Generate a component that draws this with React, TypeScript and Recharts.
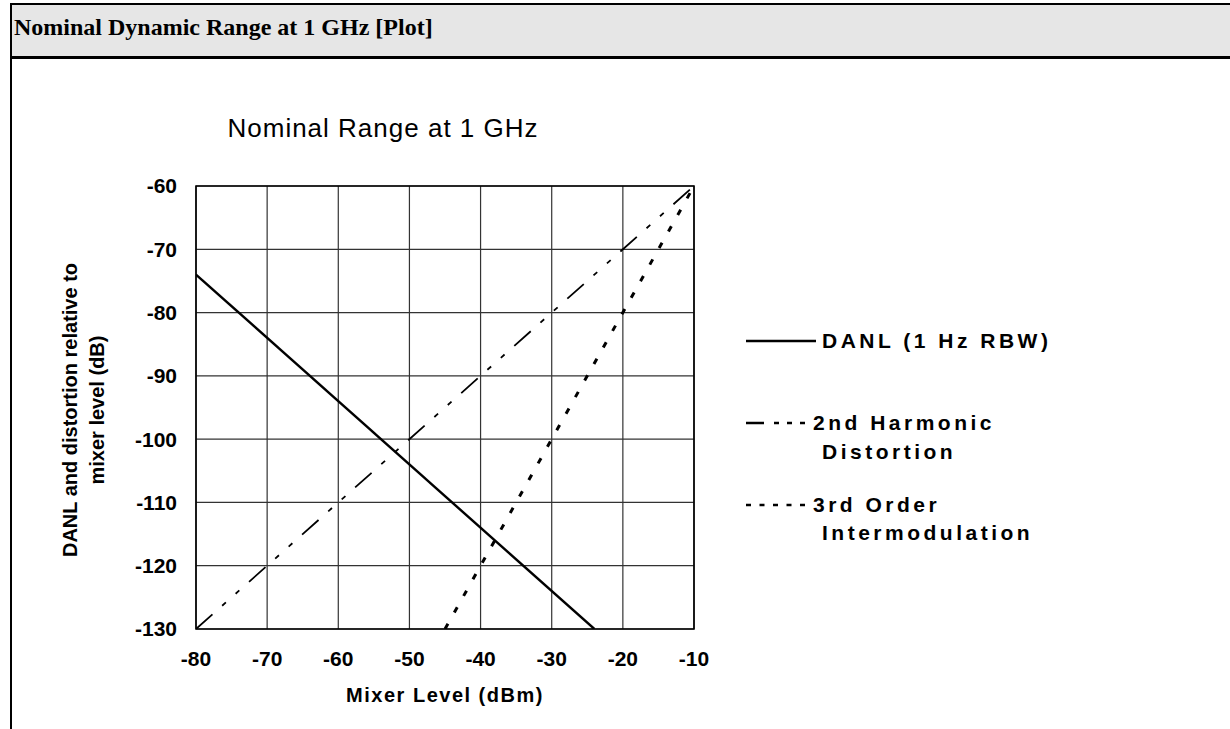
import React from "react";
import {
  LineChart,
  Line,
  XAxis,
  YAxis,
  CartesianGrid,
  ReferenceArea,
} from "recharts";

// Mixer level (dBm) on x, DANL / distortion relative to mixer level (dB) on y
const mixerTicks = [-80, -70, -60, -50, -40, -30, -20, -10];
const levelTicks = [-130, -120, -110, -100, -90, -80, -70, -60];

const danlMixer = [-80, -24];
const danlLevel = [-74, -130];

const harmonicMixer = [-80, -10];
const harmonicLevel = [-130, -60];

const imMixer = [-45, -10];
const imLevel = [-130, -60];

const toPoints = (xs: number[], ys: number[]) =>
  xs.map((x, i) => ({ x, y: ys[i] }));

const danlData = toPoints(danlMixer, danlLevel);
const harmonicData = toPoints(harmonicMixer, harmonicLevel);
const imData = toPoints(imMixer, imLevel);

const sans = "'Liberation Sans', Arial, sans-serif";
const tickStyle = { fill: "#000", fontSize: 21, fontWeight: 700, fontFamily: sans };

const YLabel = () => (
  <g fontFamily={sans} fontWeight={700} fontSize={20} fill="#000" textAnchor="middle">
    <text x={77} y={410} transform="rotate(-90 77 410)">
      DANL and distortion relative to
    </text>
    <text x={104} y={410} transform="rotate(-90 104 410)">
      mixer level (dB)
    </text>
  </g>
);

const XLabel = () => (
  <text
    x={445}
    y={702}
    textAnchor="middle"
    fontFamily={sans}
    fontWeight={700}
    fontSize={20}
    letterSpacing={1.5}
    fill="#000"
  >
    Mixer Level (dBm)
  </text>
);

const legendText: React.CSSProperties = {
  position: "absolute",
  fontFamily: sans,
  fontWeight: 700,
  fontSize: 21,
  letterSpacing: 3.5,
  lineHeight: "21px",
  whiteSpace: "nowrap",
};

export default function App() {
  return (
    <div
      style={{
        position: "absolute",
        left: 0,
        top: 0,
        width: 1230,
        height: 729,
        background: "#fff",
        overflow: "hidden",
      }}
    >
      {/* framed panel with grey heading */}
      <div
        style={{
          position: "absolute",
          left: 10,
          top: 3,
          width: 1240,
          height: 760,
          borderLeft: "2px solid #000",
          borderTop: "2px solid #000",
        }}
      />
      <div
        style={{
          position: "absolute",
          left: 12,
          top: 5,
          width: 1230,
          height: 51,
          background: "#e6e6e6",
          borderBottom: "3px solid #000",
        }}
      />
      <div
        style={{
          position: "absolute",
          left: 14,
          top: 14,
          fontFamily: "'Liberation Serif', 'Times New Roman', serif",
          fontWeight: 700,
          fontSize: 24,
          lineHeight: "26px",
          color: "#000",
        }}
      >
        Nominal Dynamic Range at 1 GHz [Plot]
      </div>

      <div
        style={{
          position: "absolute",
          left: 0,
          top: 113,
          width: 766,
          textAlign: "center",
          fontFamily: sans,
          fontSize: 26,
          letterSpacing: 1,
          color: "#000",
        }}
      >
        Nominal Range at 1 GHz
      </div>

      <div style={{ position: "absolute", left: 0, top: 0 }}>
        <LineChart
          width={1230}
          height={729}
          margin={{ top: 186, right: 536, bottom: 70, left: 136 }}
        >
          <CartesianGrid stroke="#333" strokeWidth={1.2} />
          <XAxis
            type="number"
            dataKey="x"
            domain={[-80, -10]}
            ticks={mixerTicks}
            allowDataOverflow
            height={30}
            axisLine={false}
            tickLine={false}
            tickSize={0}
            tickMargin={22}
            tick={tickStyle}
          />
          <YAxis
            type="number"
            dataKey="y"
            domain={[-130, -60]}
            ticks={levelTicks}
            allowDataOverflow
            width={60}
            axisLine={false}
            tickLine={false}
            tickSize={0}
            tickMargin={19}
            tick={tickStyle}
          />
          <ReferenceArea
            x1={-80}
            x2={-10}
            y1={-130}
            y2={-60}
            fill="none"
            stroke="#000"
            strokeWidth={1.6}
            ifOverflow="visible"
          />
          <Line
            data={danlData}
            dataKey="y"
            stroke="#000"
            strokeWidth={2.4}
            dot={false}
            isAnimationActive={false}
          />
          <Line
            data={harmonicData}
            dataKey="y"
            stroke="#000"
            strokeWidth={1.8}
            strokeDasharray="22 13 5 13 5 13"
            dot={false}
            isAnimationActive={false}
          />
          <Line
            data={imData}
            dataKey="y"
            stroke="#000"
            strokeWidth={3}
            strokeDasharray="6 13"
            dot={false}
            isAnimationActive={false}
          />
          <YLabel />
          <XLabel />
        </LineChart>
      </div>

      {/* legend */}
      <svg
        width={80}
        height={220}
        style={{ position: "absolute", left: 740, top: 320 }}
      >
        <line x1={6} x2={76} y1={21} y2={21} stroke="#000" strokeWidth={2.4} />
        <line
          x1={6}
          x2={66}
          y1={103}
          y2={103}
          stroke="#000"
          strokeWidth={2.4}
          strokeDasharray="18 10 5 8 5 8 5"
        />
        <line
          x1={6}
          x2={67}
          y1={185}
          y2={185}
          stroke="#000"
          strokeWidth={2.4}
          strokeDasharray="5 8.5"
        />
      </svg>
      <div style={{ ...legendText, left: 822, top: 330 }}>DANL (1 Hz RBW)</div>
      <div style={{ ...legendText, left: 813, top: 412 }}>2nd Harmonic</div>
      <div style={{ ...legendText, left: 822, top: 441 }}>Distortion</div>
      <div style={{ ...legendText, left: 813, top: 494 }}>3rd Order</div>
      <div style={{ ...legendText, left: 822, top: 522 }}>Intermodulation</div>
    </div>
  );
}
